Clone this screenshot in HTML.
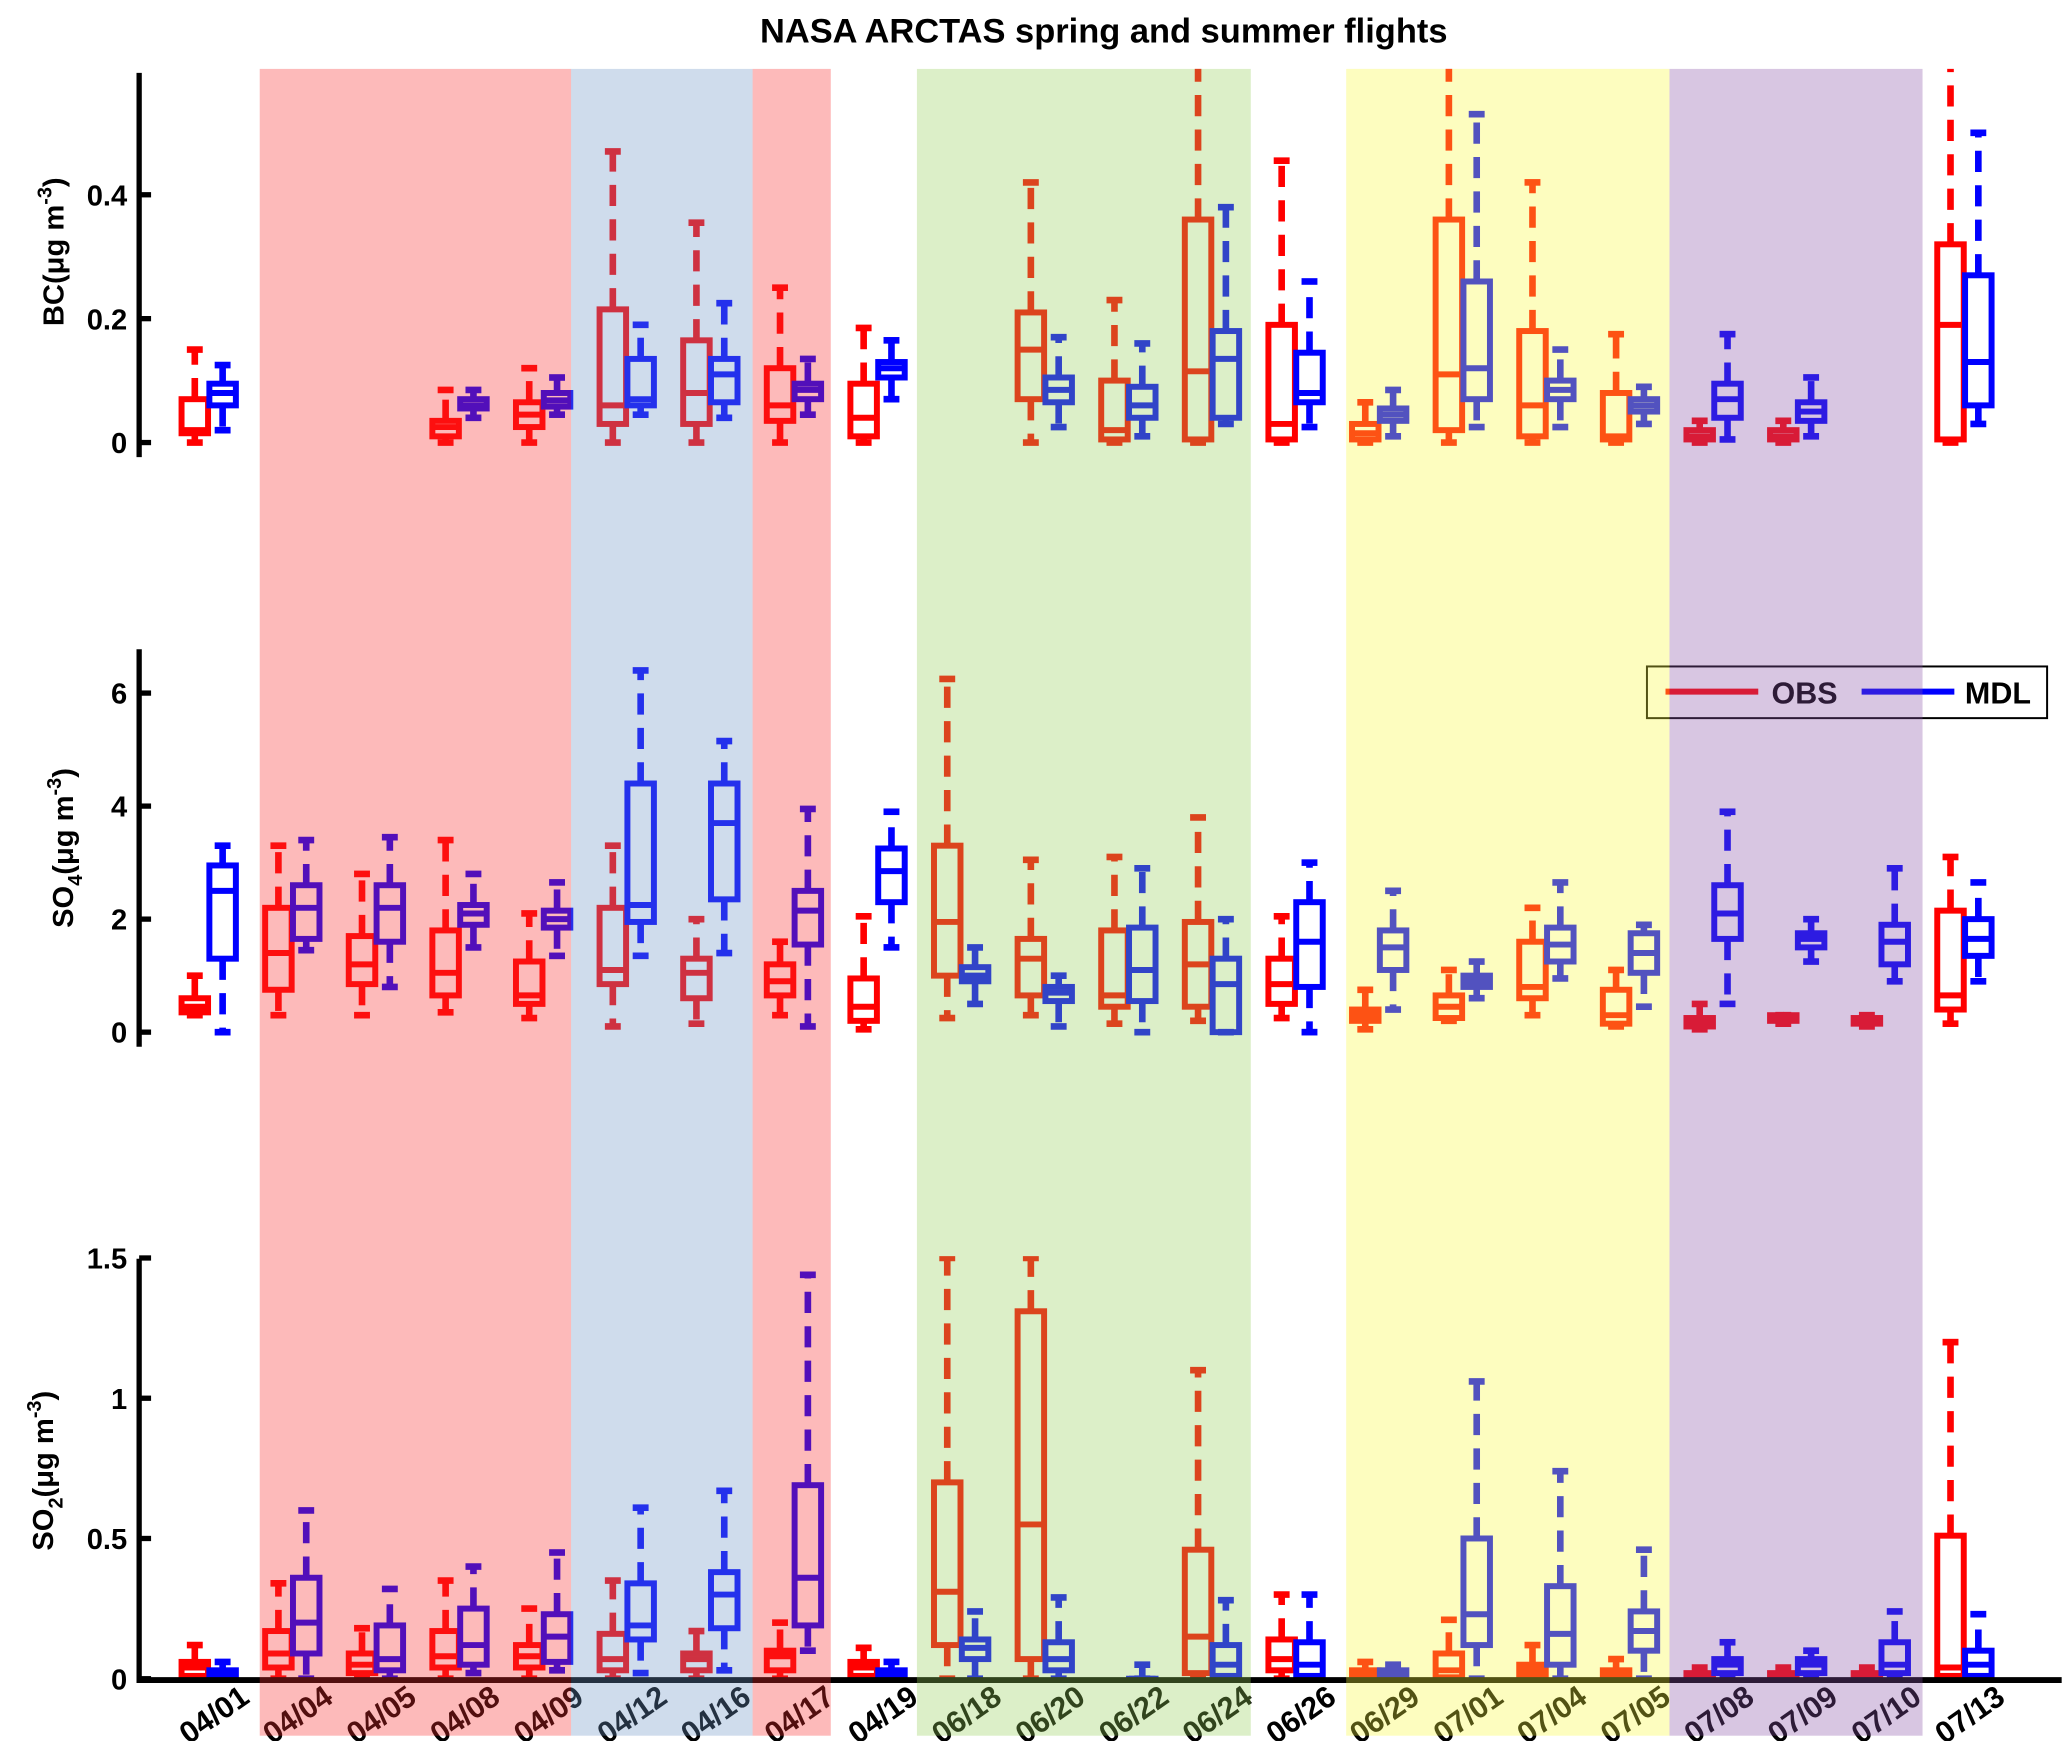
<!DOCTYPE html>
<html><head><meta charset="utf-8"><style>
html,body{margin:0;padding:0;background:#fff}
svg{display:block;font-family:"Liberation Sans",Arial,sans-serif}
</style></head><body>
<svg id="chart" width="2067" height="1741" viewBox="0 0 1560 1314" xmlns="http://www.w3.org/2000/svg">
<text x="833" y="32" text-anchor="middle" font-size="26" font-weight="bold">NASA ARCTAS spring and summer flights</text>
<g id="plot"></g>
</svg>
<script>
const categories=["04/01","04/04","04/05","04/08","04/09","04/12","04/16","04/17","04/19","06/18","06/20","06/22","06/24","06/26","06/29","07/01","07/04","07/05","07/08","07/09","07/10","07/13"];
// [low, q1, median, q3, high]
const bcObs=[[0,.015,.02,.07,.15],null,null,[0,.01,.025,.035,.085],[0,.025,.045,.065,.12],[0,.03,.06,.215,.47],[0,.03,.08,.165,.355],[0,.035,.06,.12,.25],[0,.01,.04,.095,.185],null,[0,.07,.15,.21,.42],[0,.005,.02,.1,.23],[0,.005,.115,.36,.65],[0,.005,.03,.19,.455],[0,.005,.015,.03,.065],[0,.02,.11,.36,.65],[0,.01,.06,.18,.42],[0,.005,.01,.08,.175],[0,.005,.01,.02,.035],[0,.005,.01,.02,.035],null,[0,.005,.19,.32,.65]];
const bcMdl=[[.02,.06,.08,.095,.125],null,null,[.04,.055,.06,.07,.085],[.045,.058,.068,.08,.105],[.045,.06,.07,.135,.19],[.04,.065,.11,.135,.225],[.045,.07,.085,.095,.135],[.07,.105,.12,.13,.165],null,[.025,.065,.085,.105,.17],[.01,.04,.06,.09,.16],[.03,.04,.135,.18,.38],[.025,.065,.08,.145,.26],[.01,.035,.045,.055,.085],[.025,.07,.12,.26,.53],[.025,.07,.085,.1,.15],[.03,.05,.06,.07,.09],[.005,.04,.07,.095,.175],[.01,.035,.05,.065,.105],null,[.03,.06,.13,.27,.5]];
const so4Obs=[[.3,.35,.45,.6,1.0],[.3,.75,1.4,2.2,3.3],[.3,.85,1.2,1.7,2.8],[.35,.65,1.05,1.8,3.4],[.25,.5,.65,1.25,2.1],[.1,.85,1.1,2.2,3.3],[.15,.6,1.05,1.3,2.0],[.3,.65,.9,1.2,1.6],[.05,.2,.45,.95,2.05],[.25,1.0,1.95,3.3,6.25],[.3,.65,1.3,1.65,3.05],[.15,.45,.65,1.8,3.1],[.2,.45,1.2,1.95,3.8],[.25,.5,.85,1.3,2.05],[.05,.2,.3,.4,.75],[.2,.25,.45,.65,1.1],[.3,.6,.8,1.6,2.2],[.1,.15,.3,.75,1.1],[.05,.1,.2,.25,.5],[.15,.2,.25,.3,.3],[.1,.15,.2,.25,.3],[.15,.4,.65,2.15,3.1]];
const so4Mdl=[[0,1.3,2.5,2.95,3.3],[1.45,1.65,2.2,2.6,3.4],[.8,1.6,2.2,2.6,3.45],[1.5,1.9,2.1,2.25,2.8],[1.35,1.85,2.0,2.15,2.65],[1.35,1.95,2.25,4.4,6.4],[1.4,2.35,3.7,4.4,5.15],[.1,1.55,2.15,2.5,3.95],[1.5,2.3,2.85,3.25,3.9],[.5,.9,1.0,1.15,1.5],[.1,.55,.7,.8,1.0],[0,.55,1.1,1.85,2.9],[0,0,.85,1.3,2.0],[0,.8,1.6,2.3,3.0],[.4,1.1,1.5,1.8,2.5],[.6,.8,.9,1.0,1.25],[.95,1.25,1.55,1.85,2.65],[.45,1.05,1.4,1.75,1.9],[.5,1.65,2.1,2.6,3.9],[1.25,1.5,1.65,1.75,2.0],[.9,1.2,1.6,1.9,2.9],[.9,1.35,1.65,2.0,2.65]];
const so2Obs=[[0,.01,.04,.06,.12],[0,.04,.09,.17,.34],[0,.02,.05,.09,.18],[0,.04,.08,.17,.35],[0,.04,.08,.12,.25],[0,.03,.07,.16,.35],[0,.03,.07,.09,.17],[0,.03,.08,.1,.2],[0,.01,.04,.06,.11],[0,.12,.31,.7,1.5],[0,.07,.55,1.31,1.5],null,[0,.02,.15,.46,1.1],[0,.03,.07,.14,.3],[0,.005,.015,.03,.06],[0,.005,.03,.09,.21],[0,.01,.03,.05,.12],[0,.005,.02,.03,.07],[0,.005,.01,.02,.04],[0,.005,.01,.02,.04],[0,.005,.01,.02,.04],[0,.01,.04,.51,1.2]];
const so2Mdl=[[0,.005,.02,.03,.06],[0,.09,.2,.36,.6],[0,.03,.07,.19,.32],[.02,.05,.12,.25,.4],[.03,.06,.15,.23,.45],[.02,.14,.19,.34,.61],[.03,.18,.3,.38,.67],[.1,.19,.36,.69,1.44],[0,.005,.02,.03,.06],[0,.07,.11,.14,.24],[0,.03,.07,.13,.29],[0,0,0,0,.05],[0,.01,.05,.12,.28],[0,.01,.05,.13,.3],[0,.01,.02,.03,.05],[0,.12,.23,.5,1.06],[0,.05,.16,.33,.74],[0,.1,.17,.24,.46],[0,.02,.05,.07,.13],[0,.02,.05,.07,.1],[0,.02,.05,.13,.24],[0,.01,.05,.1,.23]];
const bcTicks=[0,0.2,0.4], so4Ticks=[0,2,4,6], so2Ticks=[0,0.5,1,1.5];
const bcTickLabels=["0","0.2","0.4"], so4TickLabels=["0","2","4","6"], so2TickLabels=["0","0.5","1","1.5"];

const NS="http://www.w3.org/2000/svg";
const plot=document.getElementById('plot');
function mk(tag,attrs,parent){const e=document.createElementNS(NS,tag);for(const k in attrs)e.setAttribute(k,attrs[k]);(parent||plot).appendChild(e);return e;}
const xCenter=i=>157.5+63.1*i;
const panels=[
 {name:"bc",obs:bcObs,mdl:bcMdl,ticks:bcTicks,labels:bcTickLabels,y0:334,ppu:467.5,top:55,bot:345,clipTop:52},
 {name:"so4",obs:so4Obs,mdl:so4Mdl,ticks:so4Ticks,labels:so4TickLabels,y0:779,ppu:42.65,top:490,bot:790,clipTop:440},
 {name:"so2",obs:so2Obs,mdl:so2Mdl,ticks:so2Ticks,labels:so2TickLabels,y0:1267,ppu:211.7,top:950,bot:1268,clipTop:948}
];
const defs=mk('defs',{});
panels.forEach(p=>{
  const yS=v=>p.y0-v*p.ppu;
  const cp=mk('clipPath',{id:'clip-'+p.name},defs);
  mk('rect',{x:0,y:p.clipTop,width:1560,height:1314},cp);
  const g=mk('g',{'clip-path':'url(#clip-'+p.name+')'});
  
  
  [[p.obs,-10.5,'#ff0000','obs'],[p.mdl,10.5,'#0000ff','mdl']].forEach(([arr,off,col,nm])=>{
    arr.forEach((d,i)=>{
      if(!d)return;
      const cx=xCenter(i)+off;
      const bg=mk('g',{},g);
      
      
      const [lo,q1,md,q3,hi]=d;
      mk('line',{x1:cx,x2:cx,y1:yS(q3),y2:yS(hi),stroke:col,'stroke-width':5,'stroke-dasharray':'16 10'},bg);
      mk('line',{x1:cx,x2:cx,y1:yS(q1),y2:yS(lo),stroke:col,'stroke-width':5,'stroke-dasharray':'16 10'},bg);
      mk('line',{x1:cx-6,x2:cx+6,y1:yS(hi),y2:yS(hi),stroke:col,'stroke-width':5},bg);
      mk('line',{x1:cx-6,x2:cx+6,y1:yS(lo),y2:yS(lo),stroke:col,'stroke-width':5},bg);
      const top=yS(q3),bot=yS(q1);
      mk('rect',{x:cx-10,y:top,width:20,height:Math.max(bot-top,0.5),fill:'none',stroke:col,'stroke-width':4.5},bg);
      mk('line',{x1:cx-10,x2:cx+10,y1:yS(md),y2:yS(md),stroke:col,'stroke-width':4.5},bg);
    });
  });
  const ax=mk('g',{});
  
  
  mk('line',{x1:105,x2:105,y1:p.top,y2:p.bot,stroke:'#000','stroke-width':4},ax);
  p.ticks.forEach((t,k)=>{
    mk('line',{x1:105,x2:114,y1:yS(t),y2:yS(t),stroke:'#000','stroke-width':4},ax);
    const tx=mk('text',{x:96,y:yS(t)+8,'text-anchor':'end','font-size':22,'font-weight':'bold'},ax);
    
    
    tx.textContent=p.labels[k];
  });
});
mk('line',{x1:103,x2:1556,y1:1268,y2:1268,stroke:'#000','stroke-width':4.5});
function ytitle(x,y,html,name){const t=mk('text',{transform:`translate(${x},${y}) rotate(-90)`,'text-anchor':'middle','font-size':22,'font-weight':'bold'});t.innerHTML=html;}
ytitle(48,190,'BC(μg m<tspan dy="-9" font-size="15">-3</tspan><tspan dy="9">)</tspan>','bc-y-axis-title');
ytitle(55,640,'SO<tspan dy="7" font-size="15">4</tspan><tspan dy="-7">(μg m</tspan><tspan dy="-9" font-size="15">-3</tspan><tspan dy="9">)</tspan>','so4-y-axis-title');
ytitle(40,1110,'SO<tspan dy="7" font-size="15">2</tspan><tspan dy="-7">(μg m</tspan><tspan dy="-9" font-size="15">-3</tspan><tspan dy="9">)</tspan>','so2-y-axis-title');
categories.forEach((c,i)=>{
  const t=mk('text',{transform:`translate(${xCenter(i)+32},1284) rotate(-35)`,'text-anchor':'end','font-size':23,'font-weight':'bold'});
  
  
  t.textContent=c;
});
const lg=mk('g',{});


mk('rect',{x:1243,y:503,width:302,height:39,fill:'#fff',stroke:'#000','stroke-width':1.5},lg);
mk('line',{x1:1257,x2:1327,y1:522,y2:522,stroke:'#ff0000','stroke-width':4.5},lg);
const lo=mk('text',{x:1337,y:531,'font-size':23,'font-weight':'bold'},lg);lo.textContent='OBS';


mk('line',{x1:1405,x2:1475,y1:522,y2:522,stroke:'#0000ff','stroke-width':4.5},lg);
const lm=mk('text',{x:1483,y:531,'font-size':23,'font-weight':'bold'},lg);lm.textContent='MDL';


const regions=[[196,431,'#f82d2d'],[431,568,'#6d94c5'],[568,627,'#f82d2d'],[692,944,'#94ce58'],[1016,1260,'#f8f83c'],[1260,1451,'#8852a7']];
regions.forEach((r,k)=>{
  const e=mk('rect',{x:r[0],y:52,width:r[1]-r[0],height:1258,fill:r[2],opacity:0.33});
  
  
});
</script>
</body></html>
